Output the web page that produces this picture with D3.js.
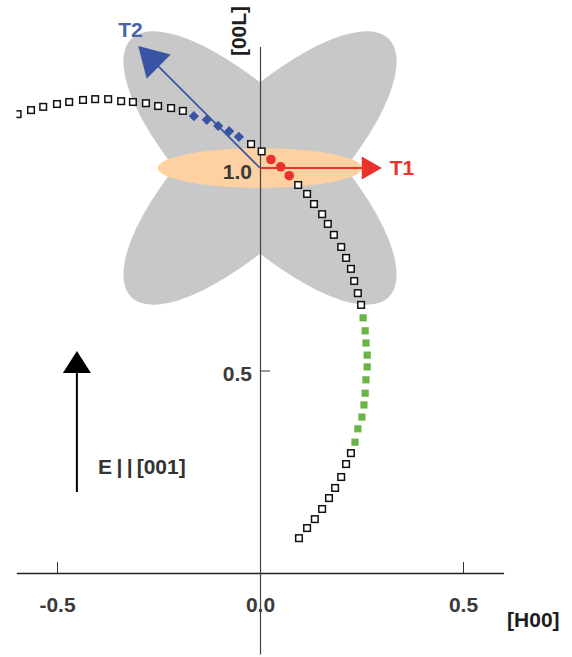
<!DOCTYPE html>
<html>
<head>
<meta charset="utf-8">
<script src="https://cdn.jsdelivr.net/npm/d3@7"></script>
<style>
  body { margin: 0; background: #fff; }
  text { font-family: "Liberation Sans", Arial, sans-serif; font-weight: bold; }
</style>
</head>
<body>
<div id="chart"></div>
<script>
const width = 572
const height = 657

// open squares: upper-left branch, the two near the centre, right branch, lower branch
const openH = [-0.597, -0.564, -0.534, -0.500, -0.470, -0.436, -0.406, -0.374, -0.342, -0.313, -0.281, -0.251, -0.219, -0.190,
               -0.022, 0.004,
               0.094, 0.116, 0.133, 0.153, 0.167, 0.182, 0.200, 0.212, 0.224, 0.232, 0.241, 0.249,
               0.224, 0.212, 0.200, 0.185, 0.170, 0.153, 0.135, 0.116, 0.096]
const openL = [1.133, 1.143, 1.151, 1.158, 1.163, 1.168, 1.170, 1.170, 1.165, 1.163, 1.160, 1.153, 1.148, 1.141,
               1.059, 1.041,
               0.958, 0.936, 0.911, 0.886, 0.862, 0.835, 0.805, 0.778, 0.751, 0.721, 0.691, 0.662,
               0.296, 0.269, 0.237, 0.210, 0.185, 0.158, 0.133, 0.111, 0.086]

// blue diamonds (T2 branch)
const diamondH = [-0.163, -0.131, -0.103, -0.076, -0.052]
const diamondL = [1.128, 1.119, 1.104, 1.091, 1.077]

// red dots (T1 branch)
const redH = [0.027, 0.051, 0.072]
const redL = [1.021, 1.003, 0.981]

// green squares
const greenH = [0.254, 0.259, 0.261, 0.264, 0.264, 0.261, 0.259, 0.256, 0.251, 0.241, 0.234]
const greenL = [0.630, 0.598, 0.568, 0.538, 0.509, 0.477, 0.444, 0.415, 0.385, 0.356, 0.323]

// ellipses around (0, 1): [centre H, centre L, semi axis 1, semi axis 2, angle]
const lobes = [[0, 1, 0.449, 0.158, 45], [0, 1, 0.449, 0.158, -45]]
const band = [0, 1, 0.252, 0.049]

// arrows: [from H, from L, to H, to L]
const arrowT1 = [0, 1, 0.30, 1]
const arrowT2 = [0, 1, -0.30, 1.301]
const arrowE = [-0.451, 0.2, -0.451, 0.548]

const xTicks = [-0.5, 0, 0.5]
const yTicks = [0.5, 1.0]

const red = "#e8322b", blue = "#3a54a4", green = "#6ab545"

const x = d3.scaleLinear().domain([-0.6, 0.6]).range([16.4, 503.6])
const y = d3.scaleLinear().domain([-0.2, 1.3]).range([654, 46.5])

const svg = d3.select("#chart").append("svg")
    .attr("width", width)
    .attr("height", height)

svg.append("defs").append("clipPath").attr("id", "clip")
  .append("rect")
    .attr("x", x(-0.6)).attr("y", 0)
    .attr("width", x(0.6) - x(-0.6)).attr("height", height)

// grey lobes and the orange band
svg.selectAll(".lobe")
  .data(lobes)
  .enter().append("ellipse")
    .attr("class", "lobe")
    .attr("cx", d => x(d[0]))
    .attr("cy", d => y(d[1]))
    .attr("rx", d => x(d[2]) - x(0))
    .attr("ry", d => x(d[3]) - x(0))
    .attr("transform", d => `rotate(${d[4]},${x(d[0])},${y(d[1])})`)
    .attr("fill", "#c8c8c8")

svg.append("ellipse")
    .attr("cx", x(band[0]))
    .attr("cy", y(band[1]))
    .attr("rx", x(band[2]) - x(0))
    .attr("ry", y(0) - y(band[3]))
    .attr("fill", "#fdd1a2")

// x axis
const xAxis = svg.append("g")
    .attr("transform", `translate(0,${y(0)})`)
    .call(d3.axisTop(x).tickValues(xTicks).tickSize(11).tickSizeOuter(0).tickFormat(d => d.toFixed(1)))
xAxis.select(".domain").attr("stroke", "#222").attr("stroke-width", 1.4)
xAxis.selectAll(".tick line").attr("stroke", "#333").attr("stroke-width", 1)
xAxis.selectAll(".tick text")
    .attr("y", 39).attr("dy", 0)
    .attr("fill", "#3a3a3a")
    .style("font-size", "21px")

// y axis
const yAxis = svg.append("g")
    .attr("transform", `translate(${x(0)},0)`)
    .call(d3.axisRight(y).tickValues(yTicks).tickSize(10).tickSizeOuter(0).tickFormat(d => d.toFixed(1)))
yAxis.select(".domain").attr("stroke", "#444").attr("stroke-width", 1.2)
yAxis.selectAll(".tick line").attr("stroke", "#333").attr("stroke-width", 1)
yAxis.selectAll(".tick text")
    .attr("x", -8).attr("dy", 10)
    .attr("text-anchor", "end")
    .attr("fill", "#3a3a3a")
    .style("font-size", "21px")

// axis titles
svg.append("text")
    .attr("x", x(0.6) + 3.5)
    .attr("y", y(0) + 54)
    .attr("fill", "#1e1e1e")
    .style("font-size", "21px")
    .text("[H00]")

svg.append("text")
    .attr("transform", `translate(${x(0) - 14.4},${y(1.3) - 15.5}) rotate(-90)`)
    .attr("text-anchor", "middle")
    .attr("fill", "#1e1e1e")
    .style("font-size", "21px")
    .text("[00L]")

// arrows
function arrow(a, color, sw, headLen, headHalf) {
  const x1 = x(a[0]), y1 = y(a[1]), x2 = x(a[2]), y2 = y(a[3])
  const len = Math.hypot(x2 - x1, y2 - y1)
  const ux = (x2 - x1) / len, uy = (y2 - y1) / len
  const bx = x2 - ux * headLen, by = y2 - uy * headLen
  svg.append("line")
      .attr("x1", x1).attr("y1", y1)
      .attr("x2", bx).attr("y2", by)
      .attr("stroke", color).attr("stroke-width", sw)
  svg.append("path")
      .attr("d", `M${x2},${y2}L${bx - uy * headHalf},${by + ux * headHalf}L${bx + uy * headHalf},${by - ux * headHalf}Z`)
      .attr("fill", color)
}
arrow(arrowT1, red, 2, 20, 11.5)
arrow(arrowT2, blue, 1.7, 29, 17)
arrow(arrowE, "#000", 2, 22, 14)

svg.append("text")
    .attr("x", x(arrowT1[2]) + 8)
    .attr("y", y(arrowT1[3]) + 7)
    .attr("fill", red)
    .style("font-size", "21px")
    .text("T1")

svg.append("text")
    .attr("x", x(arrowT2[2]) - 20)
    .attr("y", y(arrowT2[3]) - 9.5)
    .attr("fill", "#4a63ad")
    .style("font-size", "21px")
    .text("T2")

const eLabel = svg.append("text")
    .attr("x", x(arrowE[0]) + 21)
    .attr("y", y(arrowE[1]) - 18)
    .attr("fill", "#333")
    .style("font-size", "21px")
eLabel.append("tspan").text("E")
eLabel.append("tspan").attr("dx", 4.5).text("|")
eLabel.append("tspan").attr("dx", 4.5).text("|")
eLabel.append("tspan").attr("dx", 4).text("[001]")

// markers
const marks = svg.append("g").attr("clip-path", "url(#clip)")

marks.selectAll(".open")
  .data(d3.zip(openH, openL))
  .enter().append("rect")
    .attr("class", "open")
    .attr("x", d => x(d[0]) - 3.3)
    .attr("y", d => y(d[1]) - 3.3)
    .attr("width", 6.6).attr("height", 6.6)
    .attr("fill", "#fff")
    .attr("stroke", "#111")
    .attr("stroke-width", 1.5)

marks.selectAll(".diamond")
  .data(d3.zip(diamondH, diamondL))
  .enter().append("rect")
    .attr("class", "diamond")
    .attr("x", -3.6).attr("y", -3.6)
    .attr("width", 7.2).attr("height", 7.2)
    .attr("transform", d => `translate(${x(d[0])},${y(d[1])}) rotate(45)`)
    .attr("fill", blue)

marks.selectAll(".reddot")
  .data(d3.zip(redH, redL))
  .enter().append("circle")
    .attr("class", "reddot")
    .attr("cx", d => x(d[0]))
    .attr("cy", d => y(d[1]))
    .attr("r", 4.8)
    .attr("fill", red)

marks.selectAll(".green")
  .data(d3.zip(greenH, greenL))
  .enter().append("rect")
    .attr("class", "green")
    .attr("x", d => x(d[0]) - 3.6)
    .attr("y", d => y(d[1]) - 3.6)
    .attr("width", 7.2).attr("height", 7.2)
    .attr("fill", green)
</script>
</body>
</html>
